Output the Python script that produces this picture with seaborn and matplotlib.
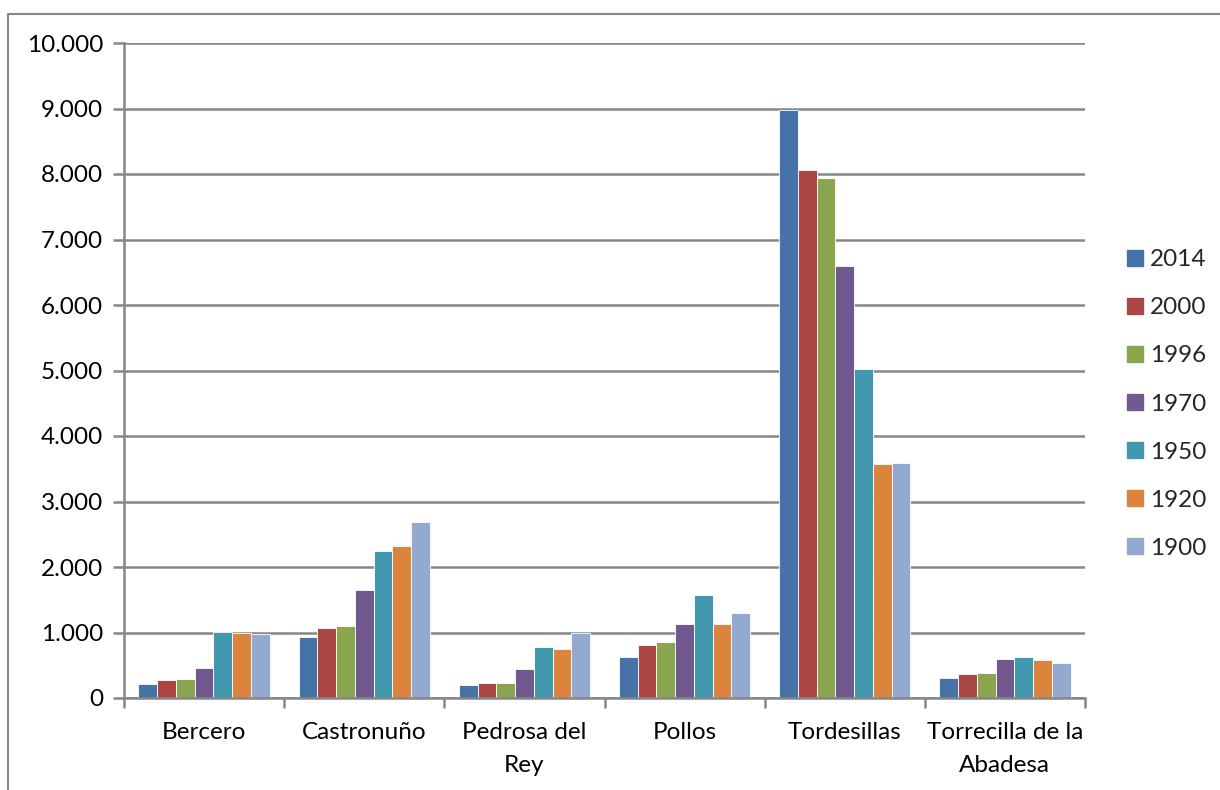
"""Población de municipios por año - gráfico de barras agrupadas"""

import matplotlib
matplotlib.use("Agg")
import matplotlib.pyplot as plt
from matplotlib.ticker import FuncFormatter, FixedLocator
from matplotlib.lines import Line2D
import seaborn as sns
import pandas as pd

# Data
municipios = ["Bercero", "Castronuño", "Pedrosa del\nRey", "Pollos",
              "Tordesillas", "Torrecilla de la\nAbadesa"]
years = ["2014", "2000", "1996", "1970", "1950", "1920", "1900"]

pob_2014 = [221, 937, 192, 630, 8970, 300]
pob_2000 = [277, 1070, 224, 810, 8066, 360]
pob_1996 = [292, 1105, 233, 852, 7940, 375]
pob_1970 = [460, 1654, 446, 1136, 6595, 595]
pob_1950 = [1013, 2244, 783, 1570, 5024, 630]
pob_1920 = [998, 2325, 741, 1136, 3577, 585]
pob_1900 = [983, 2690, 985, 1300, 3595, 540]

colors = ["#4572A7", "#AA4643", "#89A54E", "#71588F", "#4198AF", "#DB843D", "#93A9CF"]

series = [pob_2014, pob_2000, pob_1996, pob_1970, pob_1950, pob_1920, pob_1900]
rows = []
for year, vals in zip(years, series):
    for mun, v in zip(municipios, vals):
        rows.append({"municipio": mun, "year": year, "poblacion": v})
df = pd.DataFrame(rows)

sns.set_style("white")
plt.rcParams["font.family"] = ["Lato", "DejaVu Sans"]

grid_color = "#868686"
fsize = 17.5

fig = plt.figure(figsize=(12.2, 7.9), dpi=100)
ax = fig.add_axes([124 / 1220, 92 / 790, (1085 - 124) / 1220, (698 - 43) / 790])

sns.barplot(data=df, x="municipio", y="poblacion", hue="year",
            hue_order=years, order=municipios, palette=colors,
            width=0.82, saturation=1, edgecolor="white", linewidth=0.6,
            legend=False, ax=ax)

ax.set_xlim(-0.5, len(municipios) - 0.5)
ax.set_ylim(0, 10000)
ax.set_yticks(range(0, 10001, 1000))
ax.yaxis.set_major_formatter(FuncFormatter(lambda v, p: f"{int(v):,}".replace(",", ".")))
ax.yaxis.grid(True, color=grid_color, linewidth=1.8)
ax.set_axisbelow(True)

# category boundary ticks on x axis
ax.xaxis.set_minor_locator(FixedLocator([i - 0.5 for i in range(len(municipios) + 1)]))
ax.tick_params(axis="x", which="major", length=0, pad=17, labelsize=fsize)
ax.tick_params(axis="x", which="minor", length=7, width=1.8, color=grid_color, direction="out")
ax.tick_params(axis="y", which="major", length=8, width=1.8, color=grid_color, pad=7, labelsize=fsize)
ax.tick_params(axis="both", labelcolor="black")
ax.yaxis.tick_left()
ax.xaxis.tick_bottom()
for lbl in ax.get_xticklabels():
    lbl.set_linespacing(1.75)

for s in ["top", "right"]:
    ax.spines[s].set_visible(False)
for s in ["left", "bottom"]:
    ax.spines[s].set_color(grid_color)
    ax.spines[s].set_linewidth(1.8)

ax.set_xlabel("")
ax.set_ylabel("")

# legend
handles = [Line2D([0], [0], marker="s", color="none", markerfacecolor=c,
                  markeredgecolor=c, markersize=11) for c in colors]
fig.legend(handles, years, loc="center left", bbox_to_anchor=(1112 / 1220, 386 / 790),
           frameon=False, fontsize=fsize, labelspacing=1.115, handlelength=0.9,
           handletextpad=0.15, borderpad=0)

# outer chart border (top and left)
fig.add_artist(Line2D([8 / 1220, 8 / 1220, 1.0], [0.0, 1 - 13.5 / 790, 1 - 13.5 / 790],
                      transform=fig.transFigure, color=grid_color, linewidth=1.5))

fig.savefig("out.png", dpi=100)
plt.close(fig)
